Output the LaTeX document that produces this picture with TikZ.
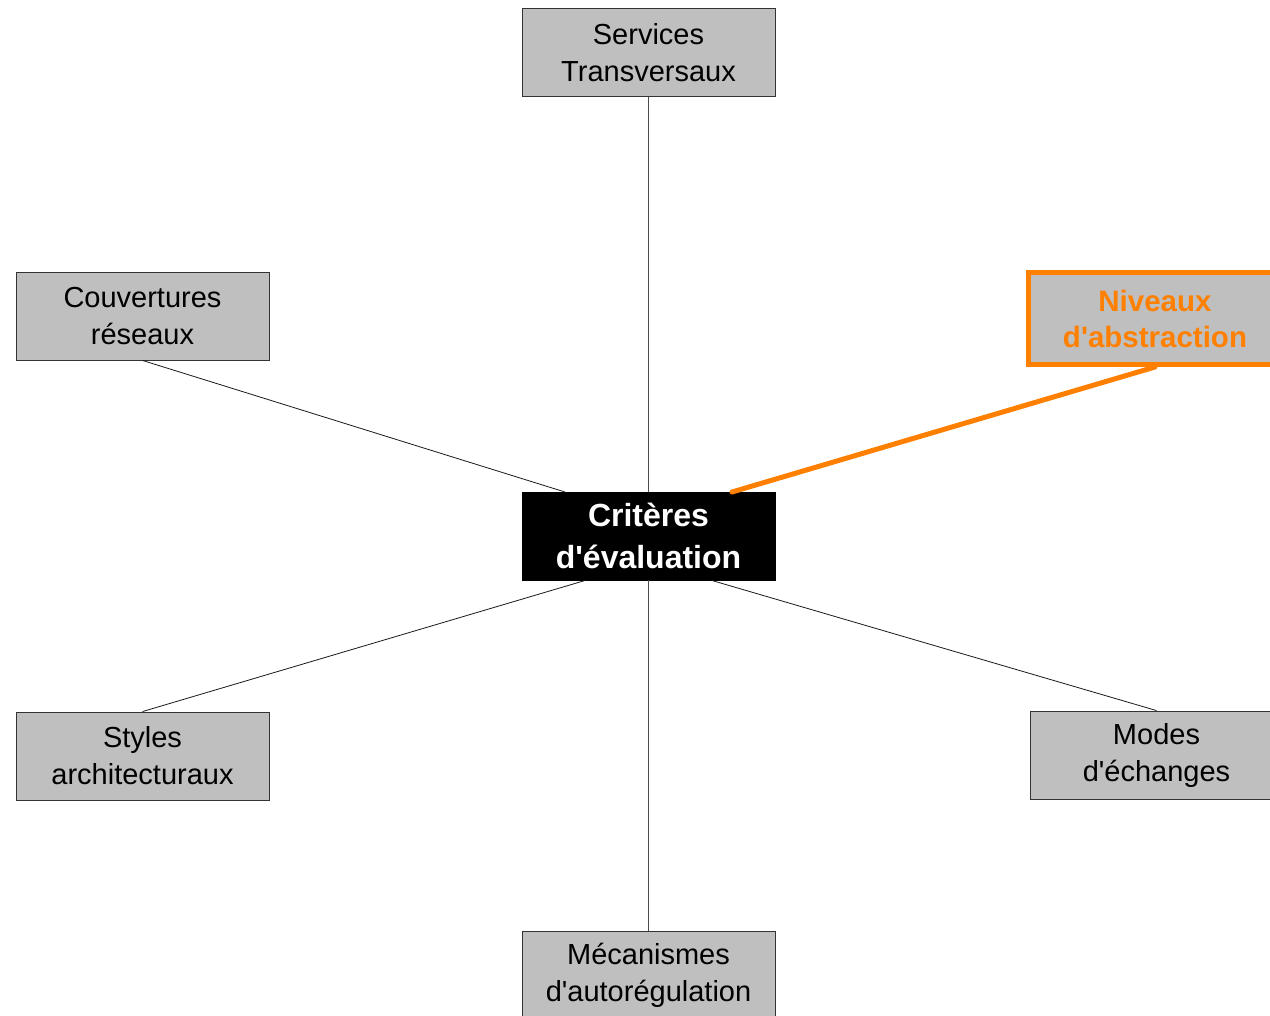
\documentclass[tikz,border=0pt]{standalone}
\usepackage{fontspec}
\setmainfont{Liberation Sans}[Ligatures=TeXOff]
\begin{document}
\begin{tikzpicture}[x=1pt,y=-1pt,
  topic/.style={draw=black!80, line width=0.9pt, fill=black!25, rectangle,
    minimum width=253pt, minimum height=88pt, inner sep=0pt, align=center,
    font=\fontsize{29}{37}\selectfont},
  hub/.style={topic, draw=black, fill=black, text=white,
    font=\fontsize{32}{42}\selectfont\bfseries},
  focus/.style={topic, draw=hlorange, line width=5pt, text=hlorange,
    minimum height=92pt, font=\fontsize{29.5}{36}\selectfont\bfseries},
  link/.style={black!90, line width=0.8pt},
  vlink/.style={black!70, line width=0.9pt},
]
\definecolor{hlorange}{RGB}{255,128,0}
\clip (0,0) rectangle (1270,1016);

\node[hub]   (c)  at (648.5,536)  {Critères\\d'évaluation};
\node[topic] (st) at (648.5,52.5) {Services\\Transversaux};
\node[topic] (cv) at (142.5,316)  {Couvertures\\réseaux};
\node[topic] (sa) at (142.5,756)  {Styles\\architecturaux};
\node[topic] (me) at (648.5,975)  {Mécanismes\\d'autorégulation};
\node[topic] (mo) at (1156.5,755) {Modes\\d'échanges};

% connectors leave the outer boxes at mid-edge and meet the hub off-centre
\coordinate (cvend) at (565,492);
\coordinate (saend) at (585,580.5);
\coordinate (moend) at (712,580.5);
\coordinate (niend) at (732,492);

\draw[vlink] (st.south) -- (c.north);
\draw[vlink] (c.south) -- (me.north);
\draw[link] (cv.south) -- (cvend);
\draw[link] (sa.north) -- (saend);
\draw[link] (mo.north) -- (moend);

\node[focus] (ni) at (1155,318.5) {Niveaux\\d'abstraction};
\draw[hlorange, line width=5pt, line cap=round] (ni.south) -- (niend);
\end{tikzpicture}
\end{document}
